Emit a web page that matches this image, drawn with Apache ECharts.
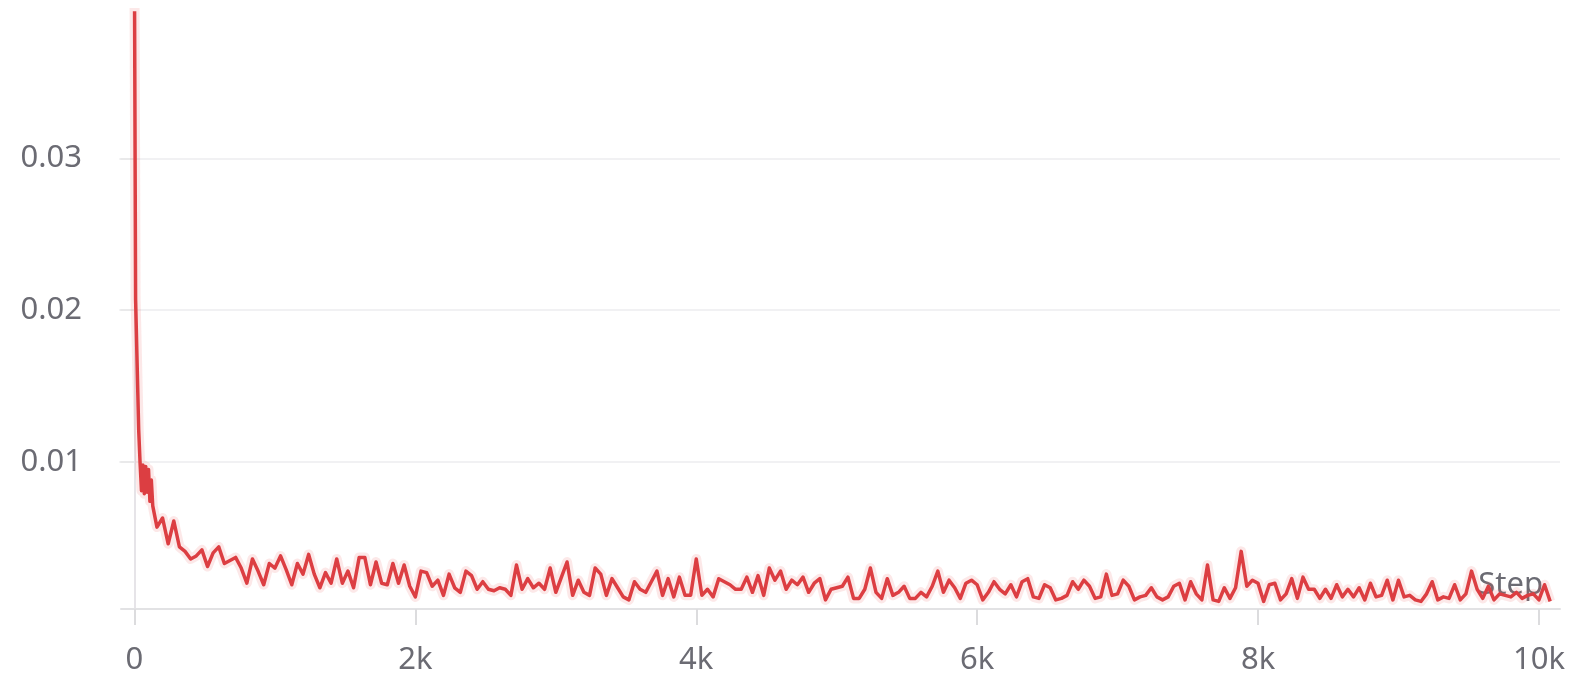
<!DOCTYPE html>
<html>
<head>
<meta charset="utf-8">
<script src="https://cdn.jsdelivr.net/npm/echarts@6/dist/echarts.min.js"></script>
<style>
  html, body { margin: 0; padding: 0; background: #ffffff; }
  #chart { width: 1592px; height: 684px; }
</style>
</head>
<body>
<div id="chart"></div>
<script>
// ---- data ----
// warm-up part of the run (irregular steps)
const headSteps = [0, 8, 30, 40, 50, 60, 70, 80, 90, 100, 110, 120, 130];
const headLoss  = [0.0415, 0.0207, 0.0121, 0.0099, 0.0081, 0.0098, 0.0079, 0.0097, 0.0080, 0.0095, 0.0074, 0.0088, 0.0071];
// rest of the run, logged every 40 steps starting at step 160
const bodyStart = 160;
const bodyEvery = 40;
const bodyLoss = [
  0.0057, 0.0063, 0.0046, 0.0061, 0.0044, 0.0041, 0.0036, 0.0038, 0.0042, 0.0031,
  0.0040, 0.0044, 0.0033, 0.0035, 0.0037, 0.0030, 0.0020, 0.0036, 0.0028, 0.0019,
  0.0033, 0.0030, 0.0038, 0.0029, 0.0019, 0.0033, 0.0026, 0.0039, 0.0026, 0.0017,
  0.0027, 0.0020, 0.0036, 0.0020, 0.0028, 0.0017, 0.0037, 0.0037, 0.0019, 0.0034,
  0.0020, 0.0019, 0.0033, 0.0020, 0.0032, 0.0018, 0.0011, 0.0028, 0.0027, 0.0018,
  0.0022, 0.0012, 0.0026, 0.0017, 0.0014, 0.0028, 0.0025, 0.0016, 0.0021, 0.0016,
  0.0015, 0.0017, 0.0016, 0.0012, 0.0032, 0.0016, 0.0023, 0.0017, 0.0020, 0.0016,
  0.0030, 0.0014, 0.0024, 0.0034, 0.0012, 0.0022, 0.0014, 0.0012, 0.0030, 0.0026,
  0.0012, 0.0023, 0.0017, 0.0011, 0.0009, 0.0021, 0.0016, 0.0014, 0.0021, 0.0028,
  0.0012, 0.0023, 0.0011, 0.0024, 0.0012, 0.0012, 0.0036, 0.0012, 0.0016, 0.0011,
  0.0023, 0.0021, 0.0019, 0.0016, 0.0016, 0.0024, 0.0014, 0.0025, 0.0012, 0.0030,
  0.0022, 0.0028, 0.0016, 0.0022, 0.0019, 0.0024, 0.0014, 0.0020, 0.0023, 0.0009,
  0.0016, 0.0017, 0.0018, 0.0024, 0.0010, 0.0010, 0.0016, 0.0030, 0.0014, 0.0010,
  0.0023, 0.0012, 0.0014, 0.0018, 0.0010, 0.0010, 0.0014, 0.0011, 0.0018, 0.0028,
  0.0014, 0.0022, 0.0017, 0.0010, 0.0020, 0.0022, 0.0019, 0.0009, 0.0014, 0.0021,
  0.0016, 0.0013, 0.0019, 0.0011, 0.0021, 0.0023, 0.0011, 0.0010, 0.0019, 0.0017,
  0.0009, 0.0010, 0.0012, 0.0021, 0.0016, 0.0022, 0.0018, 0.0010, 0.0011, 0.0026,
  0.0012, 0.0013, 0.0022, 0.0018, 0.0009, 0.0011, 0.0012, 0.0017, 0.0011, 0.0009,
  0.0011, 0.0018, 0.0020, 0.0009, 0.0021, 0.0013, 0.0009, 0.0032, 0.0009, 0.0008,
  0.0017, 0.0010, 0.0017, 0.0041, 0.0018, 0.0022, 0.0020, 0.0008, 0.0019, 0.0020,
  0.0009, 0.0013, 0.0023, 0.0010, 0.0024, 0.0016, 0.0016, 0.0010, 0.0016, 0.0010,
  0.0019, 0.0011, 0.0016, 0.0011, 0.0017, 0.0009, 0.0020, 0.0011, 0.0012, 0.0022,
  0.0009, 0.0022, 0.0011, 0.0012, 0.0009, 0.0008, 0.0013, 0.0021, 0.0009, 0.0011,
  0.0010, 0.0019, 0.0009, 0.0013, 0.0028, 0.0016, 0.0010, 0.0018, 0.0009, 0.0013,
  0.0012, 0.0011, 0.0014, 0.0010, 0.0012, 0.0013, 0.0009, 0.0019, 0.0008
];
// tick labels
const xTickValues = [0, 2000, 4000, 6000, 8000, 10000];
const xTickLabels = ['0', '2k', '4k', '6k', '8k', '10k'];
const yTickValues = [0.01, 0.02, 0.03];
const yTickLabels = ['0.01', '0.02', '0.03'];
const xAxisName = 'Step';

// ---- build series data ----
const points = [];
headSteps.forEach((s, i) => points.push([s, headLoss[i]]));
bodyLoss.forEach((v, i) => points.push([bodyStart + i * bodyEvery, v]));

const textColor = '#6b6b73';
const font = 'Noto Sans';

const chart = echarts.init(document.getElementById('chart'), null, { renderer: 'canvas' });
chart.setOption({
  animation: false,
  backgroundColor: '#ffffff',
  grid: { left: 121, right: 32, top: 13, bottom: 75, containLabel: false },
  xAxis: {
    type: 'value',
    min: -96,
    max: 10150,
    name: xAxisName,
    nameLocation: 'end',
    nameGap: -17,
    nameTextStyle: {
      color: textColor, fontFamily: font, fontSize: 31,
      align: 'right', verticalAlign: 'bottom', padding: [0, 0, 8, 0]
    },
    axisLine: { show: true, lineStyle: { color: '#e2e2e4', width: 2 } },
    axisTick: { show: true, customValues: xTickValues, length: 16, lineStyle: { color: '#dcdcde', width: 2 } },
    axisLabel: {
      customValues: xTickValues,
      margin: 36,
      color: textColor, fontFamily: font, fontSize: 31,
      formatter: v => xTickLabels[xTickValues.indexOf(v)]
    },
    splitLine: { show: false }
  },
  yAxis: {
    type: 'value',
    min: 0.0003,
    max: 0.0396,
    axisLine: { show: true, lineStyle: { color: '#e6e4e8', width: 2 } },
    axisTick: { show: true, customValues: yTickValues, length: 15, lineStyle: { color: '#e6e6e8', width: 1.5 } },
    axisLabel: {
      customValues: yTickValues,
      margin: 39,
      color: textColor, fontFamily: font, fontSize: 31,
      formatter: v => yTickLabels[yTickValues.indexOf(v)] || ''
    },
    splitLine: { show: true, lineStyle: { color: '#ededef', width: 1.5 } }
  },
  series: [
    {
      name: 'raw',
      type: 'line',
      data: points,
      showSymbol: false,
      silent: true,
      clip: true,
      lineStyle: { color: 'rgba(235,90,90,0.14)', width: 10, join: 'round' },
      z: 1
    },
    {
      name: 'loss',
      type: 'line',
      data: points,
      showSymbol: false,
      clip: true,
      lineStyle: { color: '#dc3e42', width: 3.5, join: 'round' },
      z: 2
    }
  ]
});
</script>
</body>
</html>
